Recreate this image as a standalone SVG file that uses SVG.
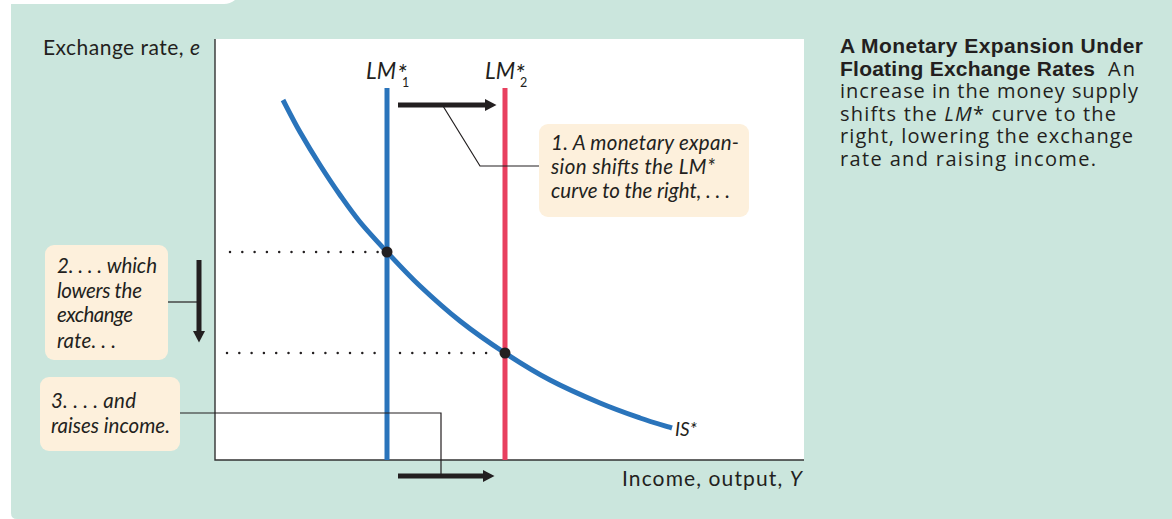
<svg xmlns="http://www.w3.org/2000/svg" width="1172" height="519" viewBox="0 0 1172 519">
<defs>
<style>
.lbl{font-family:Lato,"Open Sans","Liberation Sans",sans-serif;font-size:21px;fill:#231f20}
.it{font-style:italic}
.call{font-family:Lato,"Open Sans","Liberation Sans",sans-serif;font-style:italic;font-size:20.5px;fill:#231f20}
.cap{font-family:"Open Sans",Lato,"Liberation Sans",sans-serif;font-size:20px;fill:#231f20}
.capb{font-family:"Liberation Sans",Arial,sans-serif;font-weight:bold;font-size:21px;fill:#231f20}
.box{fill:#fdf0dc}
.lead{fill:none;stroke:#231f20;stroke-width:1.2}
.thick{fill:none;stroke:#231f20;stroke-width:5}
.dots{fill:none;stroke:#231f20;stroke-width:2.5;stroke-linecap:round;stroke-dasharray:0 12.3}
</style>
<marker id="ah" markerWidth="2.4" markerHeight="2.6" refX="0" refY="1.2" orient="auto" markerUnits="strokeWidth">
<path d="M0,0 L2.3,1.2 L0,2.4 Z" fill="#231f20"/>
</marker>
</defs>
<rect width="1172" height="519" fill="#ffffff"/>
<path d="M11,4 H224 Q230,4 235,0 H1172 V519 H17 Q11,519 11,513 Z" fill="#cbe6dd"/>
<g id="plot">
<rect x="215" y="39" width="589" height="421" fill="#ffffff"/>
<path d="M215,39 V460 H804" fill="none" stroke="#333333" stroke-width="1.4"/>
<text class="lbl" x="43" y="55" textLength="157" lengthAdjust="spacing">Exchange rate, <tspan class="it">e</tspan></text>
<text class="lbl" x="622" y="486" textLength="180" lengthAdjust="spacing">Income, output, <tspan class="it">Y</tspan></text>
</g>
<g id="lm1">
<line x1="387" y1="88" x2="387" y2="460" stroke="#2a74bb" stroke-width="5"/>
<text class="call" x="366" y="79" style="font-size:22.5px">LM<tspan x="397" y="83" style="font-size:25px">*</tspan><tspan x="402" y="87" style="font-size:12.5px;font-style:normal">1</tspan></text>
</g>
<g id="lm2">
<line x1="505" y1="88" x2="505" y2="460" stroke="#e8405f" stroke-width="5"/>
<text class="call" x="485" y="79" style="font-size:22.5px">LM<tspan x="515" y="83" style="font-size:25px">*</tspan><tspan x="520" y="87" style="font-size:12.5px;font-style:normal">2</tspan></text>
</g>
<g id="is">
<path d="M283,100 C285.8,105.3 293.8,121.2 300,132 C306.2,142.8 313.3,154.5 320,165 C326.7,175.5 333.3,185.5 340,195 C346.7,204.5 352.2,212.5 360,222 C367.8,231.5 377,241.3 387,252 C397,262.7 407.8,274.5 420,286 C432.2,297.5 445.8,309.8 460,321 C474.2,332.2 490,343.2 505,353 C520,362.8 534.2,371.7 550,380 C565.8,388.3 585,396.7 600,403 C615,409.3 628,413.8 640,418 C652,422.2 666.7,426.3 672,428" fill="none" stroke="#2a74bb" stroke-width="5"/>
<text class="call" x="675" y="436" textLength="22" lengthAdjust="spacing" style="font-size:19px">IS*</text>
</g>
<g id="equilibria">
<circle cx="387" cy="252" r="5.5" fill="#231f20"/>
<circle cx="505" cy="353" r="5.5" fill="#231f20"/>
</g>
<g id="connectors">
<line class="dots" x1="230" y1="252" x2="378" y2="252"/>
<line class="dots" x1="227" y1="353" x2="377" y2="353"/>
<line class="dots" x1="400" y1="353" x2="497" y2="353"/>
<line class="thick" x1="398" y1="105" x2="485" y2="105" marker-end="url(#ah)"/>
<line class="thick" x1="199" y1="260" x2="199" y2="331" marker-end="url(#ah)"/>
<line class="thick" x1="398" y1="476" x2="483" y2="476" marker-end="url(#ah)"/>
<polyline class="lead" points="443,106 480,166 540,166"/>
<polyline class="lead" points="168,302 199,302"/>
<polyline class="lead" points="180,413 441,413 441,476"/>
</g>
<g id="callout1">
<rect class="box" x="539" y="124" width="210" height="93" rx="9"/>
<text class="call" x="551" y="150" textLength="188" lengthAdjust="spacing">1. A monetary expan-</text>
<text class="call" x="551" y="174" textLength="164" lengthAdjust="spacing">sion shifts the LM*</text>
<text class="call" x="551" y="198" textLength="179" lengthAdjust="spacing">curve to the right, . . .</text>
</g>
<g id="callout2">
<rect class="box" x="45" y="245" width="123" height="115" rx="9"/>
<text class="call" x="57" y="273" textLength="100" lengthAdjust="spacing">2. . . . which</text>
<text class="call" x="57" y="298" textLength="85" lengthAdjust="spacing">lowers the</text>
<text class="call" x="57" y="322" textLength="76" lengthAdjust="spacing">exchange</text>
<text class="call" x="57" y="348" textLength="59" lengthAdjust="spacing">rate. . .</text>
</g>
<g id="callout3">
<rect class="box" x="40" y="377" width="140" height="74" rx="9"/>
<text class="call" x="51" y="408" textLength="85" lengthAdjust="spacing">3. . . . and</text>
<text class="call" x="51" y="433" textLength="119" lengthAdjust="spacing">raises income.</text>
</g>
<g id="caption">
<text class="capb" x="840" y="53" textLength="303" lengthAdjust="spacing">A Monetary Expansion Under</text>
<text x="840" y="76"><tspan class="capb" textLength="255" lengthAdjust="spacing">Floating Exchange Rates</tspan><tspan class="cap" x="1108" textLength="27" lengthAdjust="spacing">An</tspan></text>
<text class="cap" x="840" y="98" textLength="298" lengthAdjust="spacing">increase in the money supply</text>
<text class="cap" x="840" y="121" textLength="276" lengthAdjust="spacing">shifts the <tspan class="it">LM</tspan>* curve to the</text>
<text class="cap" x="840" y="143" textLength="293" lengthAdjust="spacing">right, lowering the exchange</text>
<text class="cap" x="840" y="166" textLength="256" lengthAdjust="spacing">rate and raising income.</text>
</g>
</svg>
